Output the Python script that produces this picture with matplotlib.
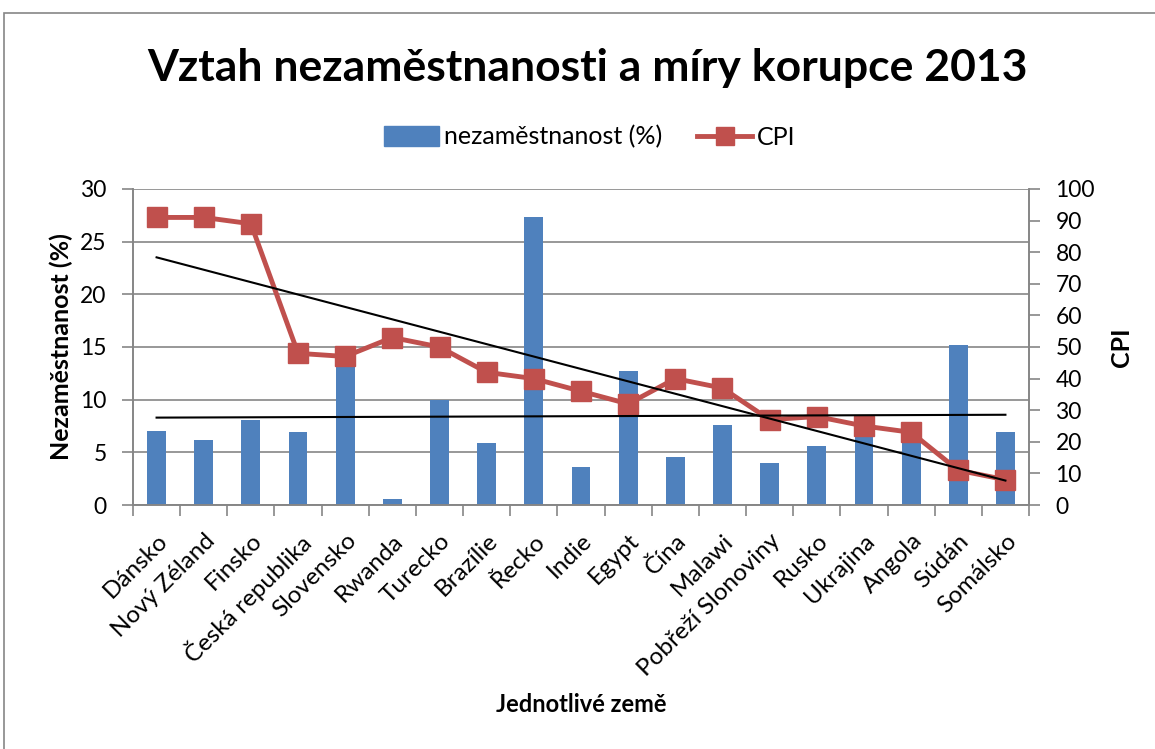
import numpy as np
import matplotlib
matplotlib.use("Agg")
import matplotlib.pyplot as plt
from matplotlib.lines import Line2D
from matplotlib.patches import Patch, Rectangle

plt.rcParams['font.family'] = ['Lato', 'DejaVu Sans']

# =========================
# Data
# =========================
countries = ["Dánsko", "Nový Zéland", "Finsko", "Česká republika", "Slovensko",
             "Rwanda", "Turecko", "Brazílie", "Řecko", "Indie", "Egypt", "Čína",
             "Malawi", "Pobřeží Slonoviny", "Rusko", "Ukrajina", "Angola",
             "Súdán", "Somálsko"]
unemployment = [7.0, 6.2, 8.1, 6.9, 14.2, 0.6, 10.0, 5.9, 27.3, 3.6, 12.7, 4.6,
                7.6, 4.0, 5.6, 7.2, 6.6, 15.2, 6.9]
cpi = [91, 91, 89, 48, 47, 53, 50, 42, 40, 36, 32, 40, 37, 27, 28, 25, 23, 11, 8]

BLUE = "#4F81BD"
RED = "#C0504D"
GRID = "#868686"

W, H = 1155, 749
fig = plt.figure(figsize=(W / 100, H / 100), dpi=100)

# chart border (Excel chart area)
fig.patches.append(Rectangle((4 / W, -0.1), 1.2, 1 - 13 / H + 0.1,
                             transform=fig.transFigure, fill=False,
                             edgecolor=GRID, linewidth=1.2))

ax = fig.add_axes([133 / W, 1 - 505 / H, (1029 - 133) / W, (505 - 189) / H])
ax2 = ax.twinx()

x = np.arange(len(countries))

# bars - unemployment
ax.bar(x, unemployment, width=0.4, color=BLUE, zorder=2)
ax.set_ylim(0, 30)
ax.set_yticks(np.arange(0, 31, 5))
ax.set_xlim(-0.5, len(countries) - 0.5)
ax.yaxis.grid(True, color=GRID, linewidth=1.2, zorder=0)
ax.set_axisbelow(True)

# CPI line
ax2.plot(x, cpi, color=RED, linewidth=3.5, marker="s", markersize=14,
         markerfacecolor=RED, markeredgecolor=RED, zorder=2)
ax2.set_ylim(0, 100)
ax2.set_yticks(np.arange(0, 101, 10))

# linear trendlines (as Excel adds them)
k1, q1 = np.polyfit(x + 1, cpi, 1)
ax2.plot(x, k1 * (x + 1) + q1, color="black", linewidth=1.5, zorder=3)
k2, q2 = np.polyfit(x + 1, unemployment, 1)
ax2.plot(x, k2 * (x + 1) + q2, color="black", linewidth=1.5, zorder=3,
         transform=ax.transData)

# axes styling
for a in (ax, ax2):
    a.spines["top"].set_visible(False)
    for s in ("left", "right", "bottom"):
        a.spines[s].set_color(GRID)
        a.spines[s].set_linewidth(1.2)
    a.tick_params(axis="y", labelsize=16.5, length=8, width=1.2, color=GRID, pad=11)

ax.set_xticks(x)
ax.set_xticklabels(countries, rotation=45, ha="right", rotation_mode="anchor",
                   fontsize=17.5)
ax.tick_params(axis="x", length=0, pad=18)
ax.set_xticks(np.arange(-0.5, len(countries), 1), minor=True)
ax.tick_params(axis="x", which="minor", length=8, width=1.2, color=GRID)

ax.set_ylabel("Nezaměstnanost (%)", fontsize=18, fontweight="bold", labelpad=5)
ax2.set_ylabel("CPI", fontsize=18, fontweight="bold", labelpad=11)
ax.set_xlabel("Jednotlivé země", fontsize=17, fontweight="bold", labelpad=9)

fig.text(0.509, 1 - 68 / H, "Vztah nezaměstnanosti a míry korupce 2013",
         ha="center", va="center", fontsize=32, fontweight="bold")

handles = [Patch(facecolor=BLUE, edgecolor=BLUE),
           Line2D([0], [0], color=RED, linewidth=3.5, marker="s", markersize=13)]
fig.legend(handles, ["nezaměstnanost (%)", "CPI"], loc="center",
           bbox_to_anchor=(590 / W, 1 - 137 / H), ncol=2, frameon=False,
           fontsize=18, handlelength=2.2, handleheight=0.8, handletextpad=0.2,
           columnspacing=1.4)

fig.savefig("out.png", dpi=100)
